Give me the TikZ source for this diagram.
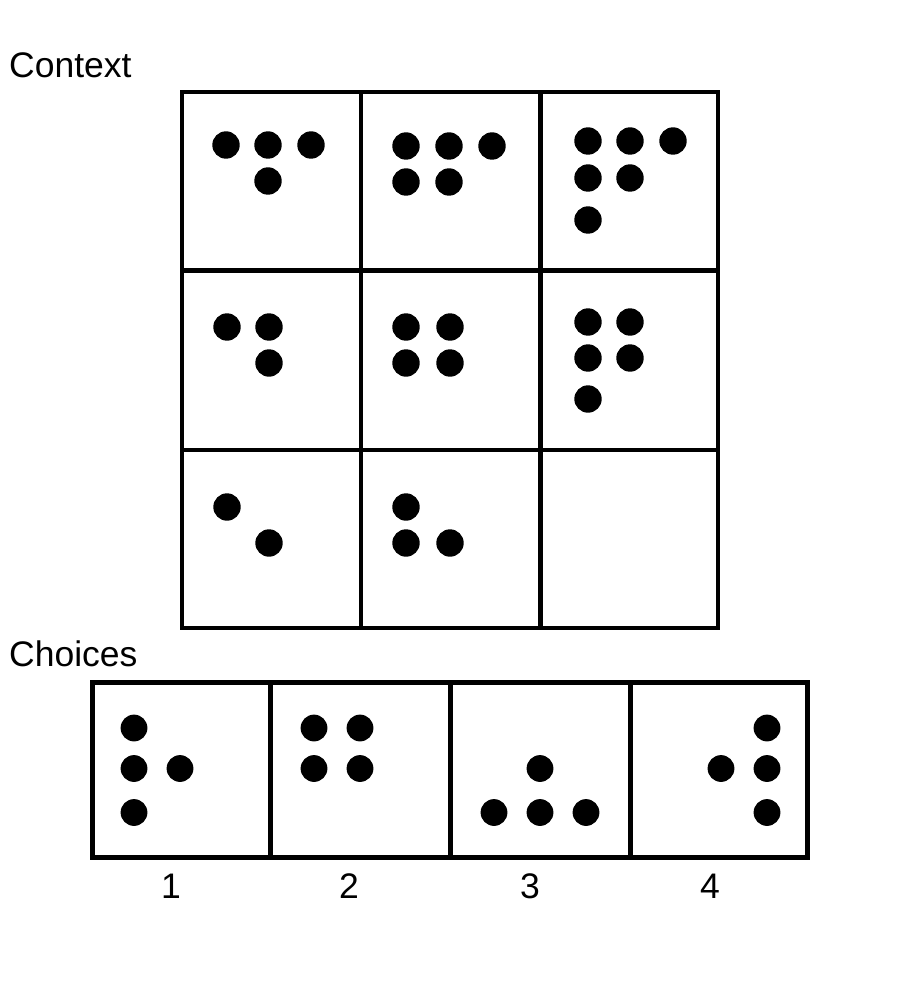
\documentclass[tikz,border=0pt]{standalone}
\usepackage{fontspec}
\setmainfont{Liberation Sans}
\begin{document}
\begin{tikzpicture}[x=1pt,y=-1pt,
  gridline/.style={line width=4.3pt,line cap=rect},
  lbl/.style={inner sep=0pt,font=\fontsize{35.5}{40}\selectfont},
  dotmark/.style={fill=black}]
\useasboundingbox (0,0) rectangle (900,1000);
% labels
\node[lbl,anchor=base west] (ctx) at (9,78) {Context};
\node[lbl,anchor=base west] (chs) at (9,666) {Choices};
% context grid
\draw[gridline] (182,92) rectangle (718,628);
\draw[gridline] (361,92) -- (361,628);
\draw[gridline] (540.5,92) -- (540.5,628);
\draw[gridline] (182,270.5) -- (718,270.5);
\draw[gridline] (182,450) -- (718,450);
% choices grid
\draw[gridline] (92.5,682.5) rectangle (807.5,857.5);
\draw[gridline] (270.5,682.5) -- (270.5,857.5);
\draw[gridline] (450.5,682.5) -- (450.5,857.5);
\draw[gridline] (630.5,682.5) -- (630.5,857.5);
% context dots
\foreach \p in {(226,145),(268,145),(311,145),(268,181),
  (406,146),(449,146),(492,146),(406,182),(449,182),
  (588,141),(630,141),(673,141),(588,178),(630,178),(588,220),
  (227,327),(269,327),(269,363),
  (406,327),(450,327),(406,363),(450,363),
  (588,322),(630,322),(588,358),(630,358),(588,399),
  (227,507),(269,543),
  (406,507),(406,543),(450,543)}
  \fill[dotmark] \p circle (13.7);
% choice dots
\foreach \p in {(134,728),(134,768.5),(180,768.5),(134,812.5),
  (314,728),(360,728),(314,768.5),(360,768.5),
  (540,768.5),(494,812.5),(540,812.5),(586,812.5),
  (767,728),(721,768.5),(767,768.5),(767,812.5)}
  \fill[dotmark] \p circle (13.4);
% numbers
\node[lbl,anchor=base] (n1) at (171,898) {1};
\node[lbl,anchor=base] (n2) at (349,898) {2};
\node[lbl,anchor=base] (n3) at (530,898) {3};
\node[lbl,anchor=base] (n4) at (710,898) {4};
\end{tikzpicture}
\end{document}
